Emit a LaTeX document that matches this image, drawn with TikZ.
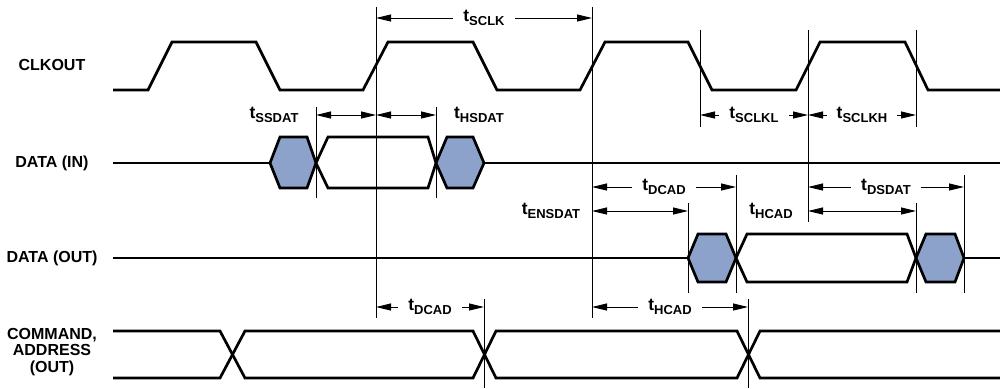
\documentclass[tikz,border=0pt]{standalone}
\usepackage{fontspec}
\setmainfont{Liberation Sans}
\usetikzlibrary{arrows.meta}
\definecolor{hexfill}{RGB}{140,162,202}
\newcommand\tlab[1]{t\raisebox{-2pt}{\fontsize{6.5}{7}\selectfont #1}}
\begin{document}
\begin{tikzpicture}[x=0.5pt,y=-0.5pt,
  sig/.style={line width=1.35pt, line join=miter},
  hexa/.style={sig, fill=hexfill},
  dimln/.style={line width=0.5pt},
  dimarr/.style={line width=0.5pt, {Triangle[length=7.5pt,width=3.5pt]}-{Triangle[length=7.5pt,width=3.5pt]}},
  lab/.style={font=\bfseries\fontsize{8.7}{9}\selectfont, fill=white, inner xsep=5pt, inner ysep=1pt},
  freelab/.style={font=\bfseries\fontsize{8.7}{9}\selectfont, inner sep=0pt},
  sname/.style={font=\bfseries\fontsize{8}{8.2}\selectfont, align=center}]
\useasboundingbox (0,0) rectangle (1000,388);

% signal names
\node[sname] (nclk) at (52,65) {CLKOUT};
\node[sname] (ndin) at (52,163) {DATA (IN)};
\node[sname] (ndout) at (52,258) {DATA (OUT)};
\node[sname] (ncmd) at (52,352) {COMMAND,\\ADDRESS\\(OUT)};

% CLKOUT
\draw[sig] (113,90) -- (148,90) -- (172,42) -- (256,42) -- (280,90) -- (363,90) -- (388,42) -- (473,42) -- (497,90)
  -- (580,90) -- (605,42) -- (688,42) -- (712,90) -- (796,90) -- (820,42) -- (905,42) -- (928,90) -- (1000,90);

% DATA (IN)
\draw[sig] (113,163) -- (270,163);
\filldraw[hexa] (270,163) -- (280,137) -- (307,137) -- (316,163) -- (307,188) -- (280,188) -- cycle;
\draw[sig] (316,163) -- (328,137) -- (428,137) -- (436,163) -- (428,188) -- (328,188) -- cycle;
\filldraw[hexa] (436,163) -- (447,137) -- (473,137) -- (484,163) -- (473,188) -- (447,188) -- cycle;
\draw[sig] (484,163) -- (1000,163);

% DATA (OUT)
\draw[sig] (113,258) -- (688,258);
\filldraw[hexa] (688,258) -- (698,234) -- (726,234) -- (736,258) -- (726,282) -- (698,282) -- cycle;
\draw[sig] (736,258) -- (747,234) -- (907,234) -- (916,258) -- (907,282) -- (747,282) -- cycle;
\filldraw[hexa] (916,258) -- (926,234) -- (955,234) -- (964,258) -- (955,282) -- (926,282) -- cycle;
\draw[sig] (964,258) -- (1000,258);

% COMMAND, ADDRESS
\draw[sig] (113,331) -- (220,331) -- (245,378) -- (473,378) -- (496,331) -- (737,331) -- (760,378) -- (1000,378);
\draw[sig] (113,378) -- (220,378) -- (245,331) -- (473,331) -- (496,378) -- (737,378) -- (760,331) -- (1000,331);

% reference lines
\coordinate (a1) at (376,7);   \coordinate (a2) at (376,318);
\coordinate (b1) at (592,7);   \coordinate (b2) at (592,318);
\coordinate (c1) at (316,107); \coordinate (c2) at (316,198);
\coordinate (d1) at (436,107); \coordinate (d2) at (436,198);
\coordinate (e1) at (700,30);  \coordinate (e2) at (700,127);
\coordinate (f1) at (808,30);  \coordinate (f2) at (808,222);
\coordinate (g1) at (916,30);  \coordinate (g2) at (916,127);
\coordinate (g3) at (916,203); \coordinate (g4) at (916,293);
\coordinate (h1) at (736,175); \coordinate (h2) at (736,293);
\coordinate (i1) at (688,203); \coordinate (i2) at (688,293);
\coordinate (j1) at (964,175); \coordinate (j2) at (964,293);
\coordinate (k1) at (484,299); \coordinate (k2) at (484,388);
\coordinate (l1) at (748,299); \coordinate (l2) at (748,388);
\foreach \p/\q in {a1/a2,b1/b2,c1/c2,d1/d2,e1/e2,f1/f2,g1/g2,g3/g4,h1/h2,i1/i2,j1/j2,k1/k2,l1/l2}
  \draw[dimln] (\p) -- (\q);

% dimension arrows
\draw[dimarr] (376,18) -- node[lab] {\tlab{SCLK}} (592,18);
\draw[dimarr] (316,115) -- (376,115);
\draw[dimarr] (376,115) -- (436,115);
\node[freelab] (tss) at (274,115) {\tlab{SSDAT}};
\node[freelab] (ths) at (479,115) {\tlab{HSDAT}};
\draw[dimarr] (700,115) -- node[lab] {\tlab{SCLKL}} (808,115);
\draw[dimarr] (808,115) -- node[lab] {\tlab{SCLKH}} (916,115);
\draw[dimarr] (592,187) -- node[lab] {\tlab{DCAD}} (736,187);
\draw[dimarr] (808,187) -- node[lab] {\tlab{DSDAT}} (964,187);
\draw[dimarr] (592,211) -- (688,211);
\draw[dimarr] (808,211) -- (916,211);
\node[freelab] (tens) at (551,211) {\tlab{ENSDAT}};
\node[freelab] (thc) at (771,211) {\tlab{HCAD}};
\draw[dimarr] (376,307) -- node[lab] {\tlab{DCAD}} (484,307);
\draw[dimarr] (592,307) -- node[lab] {\tlab{HCAD}} (748,307);
\end{tikzpicture}
\end{document}
